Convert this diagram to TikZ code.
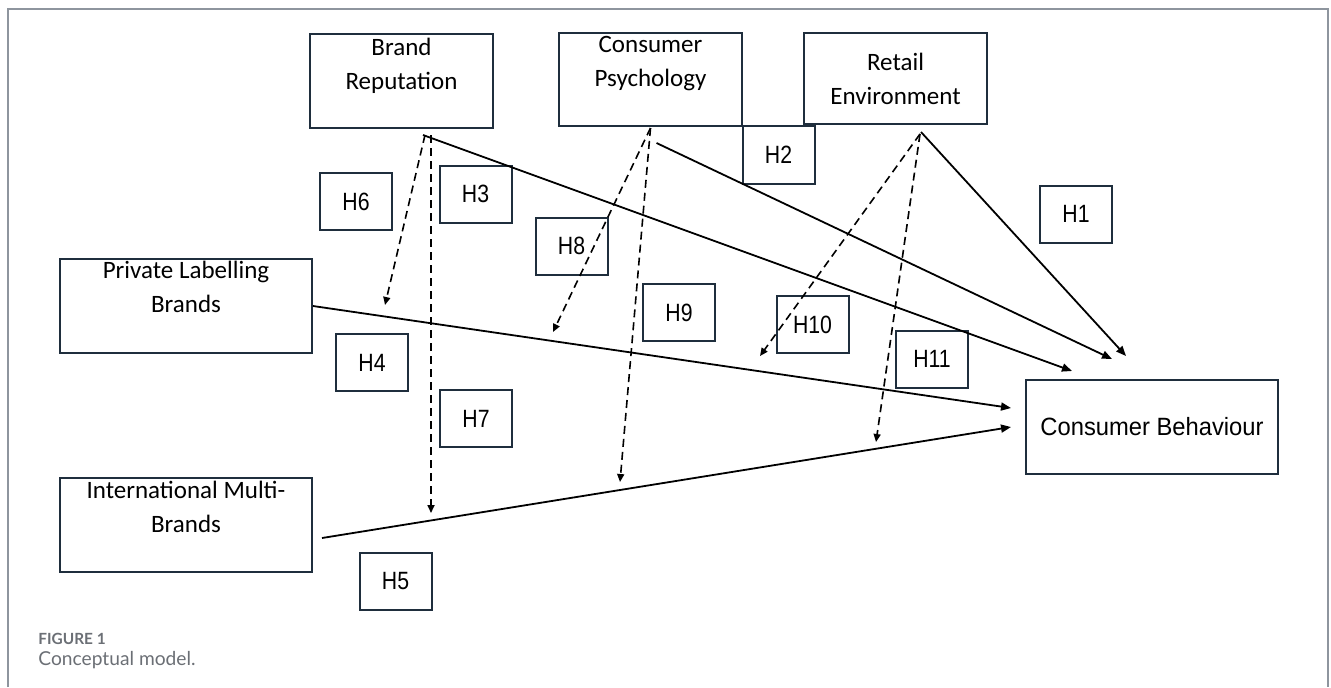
\documentclass[tikz,border=0pt]{standalone}
\usepackage{fontspec}
\setmainfont{Carlito}
\newfontfamily\capfont{Lato}
\newfontfamily\hypfont[FakeStretch=0.85]{Liberation Sans}
\newfontfamily\cbfont[FakeStretch=0.95]{Liberation Sans}
\usetikzlibrary{arrows.meta,positioning,calc}
\definecolor{boxc}{HTML}{1F2E3D}
\definecolor{framec}{HTML}{8E959E}
\definecolor{capc}{HTML}{6B6F75}
\tikzset{
  var/.style={draw=boxc,line width=1pt,minimum width=#1,minimum height=47pt,inner sep=0pt,align=center,font=\fontsize{12.5}{17}\selectfont},
  var/.default={126pt},
  hyp/.style={draw=boxc,line width=1pt,minimum width=36pt,minimum height=28.5pt,inner sep=0pt,font=\hypfont\fontsize{12.5}{14}\selectfont},
  toptxt/.style={anchor=north,inner sep=0pt,align=center,font=\fontsize{12.5}{17}\selectfont},
  eff/.style={-{Triangle[length=5pt,width=4pt]},line width=0.9pt},
  mod/.style={-{Triangle[length=4pt,width=3.5pt]},line width=0.8pt,dash pattern=on 4pt off 2.5pt},
}
\begin{document}
\begin{tikzpicture}[x=0.5pt,y=-0.5pt]
 \useasboundingbox (0,0) rectangle (1331,687);
 \draw[framec,line width=0.7pt] (8,687) -- (8,9) -- (1328,9) -- (1328,687);
 % factors
 \node[var=91.5pt,minimum height=47pt,label={[toptxt,name=br-t,yshift=-2.5pt]north:Brand\\Reputation}] (br) at (401.5,81) {};
 \node[var=91.5pt,minimum height=46.5pt,label={[toptxt,name=cp-t,yshift=-2pt]north:Consumer\\Psychology}] (cp) at (650.5,79.5) {};
 \node[var=91.5pt,minimum height=45.5pt] (re) at (895.5,78.5) {Retail\\Environment};
 \node[var,label={[toptxt,name=pl-t,yshift=-1.5pt]north:Private Labelling\\Brands}] (pl) at (186,306) {};
 \node[var,label={[toptxt,name=imb-t,yshift=-2pt]north:International Multi-\\Brands}] (imb) at (186,525) {};
 \node[var,font=\cbfont\fontsize{12.5}{14}\selectfont] (cb) at (1152,427) {Consumer Behaviour};
 % hypotheses
 \node[hyp] (h1) at (1076,214) {H1};
 \node[hyp,minimum height=29pt] (h2) at (778.5,155) {H2};
 \node[hyp] (h3) at (475.5,194) {H3};
 \node[hyp] (h4) at (372,362.5) {H4};
 \node[hyp] (h5) at (395.5,581.5) {H5};
 \node[hyp] (h6) at (356,201.5) {H6};
 \node[hyp] (h7) at (476,418.5) {H7};
 \node[hyp] (h8) at (571.5,246) {H8};
 \node[hyp] (h9) at (679,312.5) {H9};
 \node[hyp] (h10) at (812.5,324.5) {H10};
 \node[hyp] (h11) at (932,359) {H11};
 % line origins and ends
 \coordinate (br-o) at ([shift={(21.5,6)}]br.south);
 \coordinate (br-d) at ([shift={(29.5,6)}]br.south);
 \coordinate (br-e) at ([shift={(23.5,6)}]br.south);
 \coordinate (cp-o) at ([shift={(6,16)}]cp.south);
 \coordinate (cp-d) at ([shift={(0,1)}]cp.south);
 \coordinate (re-o) at ([shift={(25.5,7)}]re.south);
 \coordinate (re-d) at ([shift={(24.5,9)}]re.south);
 \coordinate (imb-o) at ([shift={(9,13)}]imb.east);
 \coordinate (cb-a) at ([shift={(-80,-8)}]cb.north);
 \coordinate (cb-b) at ([shift={(-40,-20)}]cb.north);
 \coordinate (cb-c) at ([shift={(-26,-23)}]cb.north);
 \coordinate (cb-d) at ([shift={(-14,-19)}]cb.west);
 \coordinate (cb-e) at ([shift={(-14,0)}]cb.west);
 \coordinate (m6) at (385,305);
 \coordinate (m7) at (431,513);
 \coordinate (m8) at (553,332);
 \coordinate (m9) at (620,482);
 \coordinate (m10) at (760,356);
 \coordinate (m11) at (876,442);
 % direct effects
 \draw[eff] (br-o) -- (cb-a);
 \draw[eff] (cp-o) -- (cb-b);
 \draw[eff] (re-o) -- (cb-c);
 \draw[eff] (pl.east) -- (cb-d);
 \draw[eff] (imb-o) -- (cb-e);
 % moderating effects
 \draw[mod] (br-e) -- (m6);
 \draw[mod] (br-d) -- (m7);
 \draw[mod] (cp-d) -- (m8);
 \draw[mod] (cp-d) -- (m9);
 \draw[mod] (re-d) -- (m10);
 \draw[mod] (re-d) -- (m11);
 % caption
 \node[anchor=base west,inner sep=0pt,text=capc,font=\capfont\bfseries\fontsize{7.7}{9}\selectfont] (fig) at (38,644) {FIGURE 1};
 \node[anchor=base west,inner sep=0pt,text=capc,font=\capfont\fontsize{9.6}{11}\selectfont] (cap) at (38,665) {Conceptual model.};
\end{tikzpicture}
\end{document}
